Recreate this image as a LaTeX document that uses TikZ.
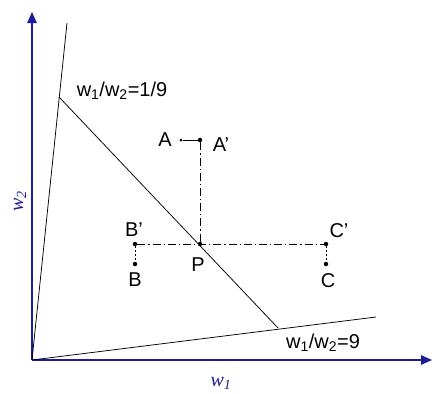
\documentclass[tikz,border=0pt]{standalone}
\usepackage{fontspec}
\setmainfont{Liberation Sans}
\newfontfamily\axisfont{Liberation Serif}
\usetikzlibrary{arrows.meta,positioning}
\definecolor{axisblue}{HTML}{1C1C9C}

\begin{document}
\begin{tikzpicture}[x=1pt,y=-1pt,font=\fontsize{20}{23}\selectfont,
    axis/.style={axisblue,line width=1.3pt,-{Triangle[length=11pt,width=9.5pt]}},
    dot/.style={circle,fill=black,inner sep=0pt,minimum size=4.5pt},
    smalldot/.style={circle,fill=black,inner sep=0pt,minimum size=3pt},
    dashdot/.style={line width=0.8pt,dash pattern=on 8pt off 3pt on 1.2pt off 3pt},
    shortdash/.style={line width=0.8pt,dash pattern=on 2pt off 2pt},
    lbl/.style={inner sep=0pt},
    axlbl/.style={inner sep=0pt,text=axisblue,font=\axisfont\itshape\fontsize{20}{23}\selectfont}]
  \useasboundingbox (0,0) rectangle (432,394);

  % axes
  \coordinate (O) at (32,360);
  \coordinate (ytip) at (32,12);
  \coordinate (xtip) at (432,360);
  \draw[axis] (O) -- (ytip);
  \draw[axis] (O) -- (xtip);
  \node[axlbl,rotate=90] (w2) at (20,201) {w\textsubscript{2}};
  \node[axlbl] (w1) at (221,383) {w\textsubscript{1}};

  % ratio lines
  \coordinate (steep) at (67,23);
  \coordinate (flat) at (376,317);
  \coordinate (top) at (59,97);
  \coordinate (bot) at (278,328);
  \draw[line width=0.75pt] (O) -- (steep);
  \draw[line width=0.75pt] (O) -- (flat);
  \draw[line width=0.75pt] (top) -- (bot);
  \node[lbl] (r1) at (122,91) {w\textsubscript{1}/w\textsubscript{2}=1/9};
  \node[lbl] (r9) at (323,343) {w\textsubscript{1}/w\textsubscript{2}=9};

  % points
  \node[dot] (P) at (200,244) {};
  \node[dot] (Ap) at (200,140) {};
  \node[smalldot] (A) at (181,140) {};
  \node[dot] (Bp) at (135,244) {};
  \node[dot] (B) at (135,264) {};
  \node[dot] (Cp) at (326,244) {};
  \node[dot] (C) at (326,264) {};

  \draw[dashdot] (Ap) -- (P);
  \draw[dashdot] (Bp) -- (Cp);
  \draw[line width=0.8pt] (Ap) -- (A);
  \draw[shortdash] (Bp) -- (B);
  \draw[shortdash] (Cp) -- (C);

  \node[lbl] (Alab) at (165,140) {A};
  \node[lbl] (Aplab) at (221,145) {A’};
  \node[lbl] (Plab) at (198,265) {P};
  \node[lbl] (Bplab) at (134,230) {B’};
  \node[lbl] (Blab) at (135,280) {B};
  \node[lbl] (Cplab) at (339,231) {C’};
  \node[lbl] (Clab) at (328,281) {C};
\end{tikzpicture}
\end{document}
